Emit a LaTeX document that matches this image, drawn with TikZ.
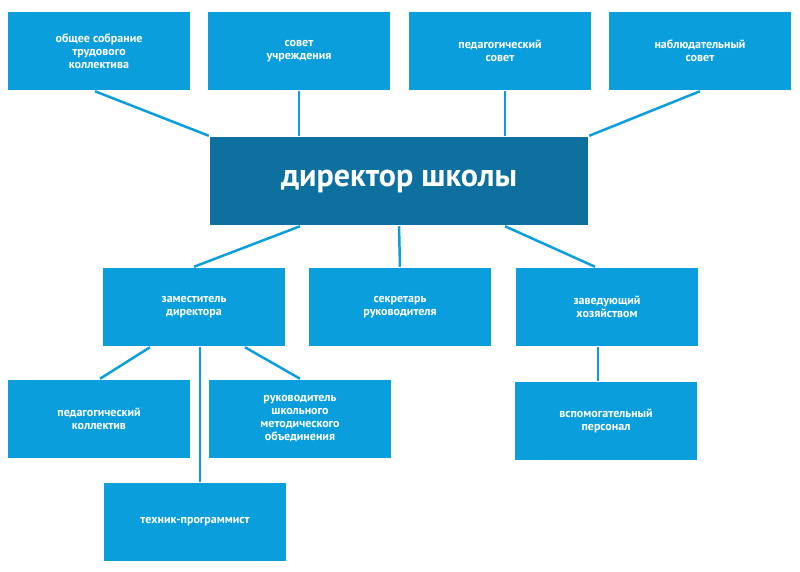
\documentclass[tikz,border=0pt]{standalone}
\usepackage{fontspec}
\setmainfont{PT Sans}
\usetikzlibrary{calc}
\definecolor{boxblue}{RGB}{10,158,220}
\definecolor{headblue}{RGB}{14,112,158}

\begin{document}
\begin{tikzpicture}[x=1pt,y=-1pt,line width=2.5pt,
    unit/.style={fill=boxblue,text=white,font=\bfseries\fontsize{12}{13}\selectfont,
      align=center,minimum width=182pt,minimum height=78pt,inner sep=2pt},
    head/.style={fill=headblue,text=white,font=\bfseries\fontsize{32}{36}\selectfont,
      minimum width=378pt,minimum height=88pt},
    link/.style={draw=boxblue}]
    \useasboundingbox (0,0) rectangle (800,571);
    % top row
    \node[unit] (sobr) at (99,51) {общее собрание\\трудового\\коллектива};
    \node[unit] (sovet) at (299,51) {совет\\учреждения};
    \node[unit] (ped) at (500,51) {педагогический\\совет};
    \node[unit] (nabl) at (700,51) {наблюдательный\\совет};
    % head
    \node[head] (dir) at (399,181) {директор школы};
    % second row
    \node[unit] (zam) at (194,307) {заместитель\\директора};
    \node[unit] (sekr) at (400,307) {секретарь\\руководителя};
    \node[unit] (zav) at (607,307) {заведующий\\хозяйством};
    % third row
    \node[unit] (koll) at (99,419) {педагогический\\коллектив};
    \node[unit] (ruk) at (300,419) {руководитель\\школьного\\методического\\объединения};
    \node[unit] (vsp) at (606,421) {вспомогательный\\персонал};
    \node[unit] (tech) at (195,522) {техник-программист};
    % links
    \draw[link] ($(sobr.south)+(-4,0)$) -- ($(dir.north west)+(0,0)$);
    \draw[link] (sovet.south) -- (sovet.south |- dir.north);
    \draw[link] ($(ped.south)+(5,0)$) -- ($(ped.south |- dir.north)+(5,0)$);
    \draw[link] (nabl.south) -- (dir.north east);
    \draw[link] ($(dir.south)+(-99,0)$) -- (zam.north);
    \draw[link] (dir.south) -- (sekr.north);
    \draw[link] ($(dir.south)+(106,0)$) -- ($(zav.north)+(-12,0)$);
    \draw[link] ($(zam.south)+(-44,0)$) -- ($(koll.north)+(1,0)$);
    \draw[link] ($(zam.south)+(6,0)$) -- ($(tech.north)+(5,0)$);
    \draw[link] ($(zam.south)+(51,0)$) -- ($(ruk.north)+(0,0)$);
    \draw[link] ($(zav.south)+(-9,0)$) -- ($(vsp.north)+(-8,0)$);
\end{tikzpicture}
\end{document}
